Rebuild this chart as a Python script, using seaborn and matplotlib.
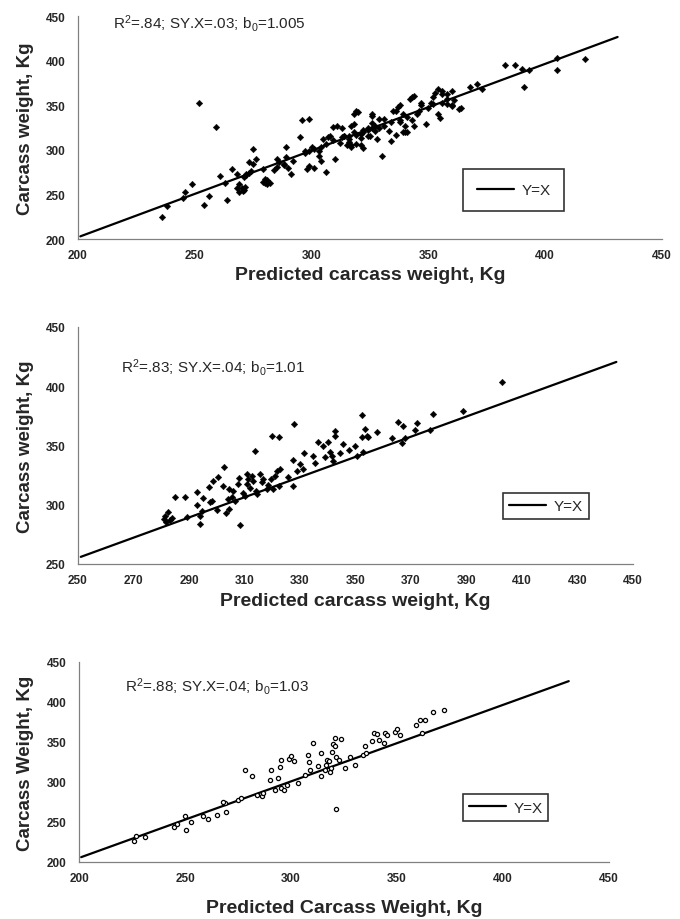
import numpy as np
import pandas as pd
import matplotlib
matplotlib.use("Agg")
import matplotlib.pyplot as plt
import seaborn as sns

sns.set_style("white")
plt.rcParams["font.family"] = ["Liberation Sans", "DejaVu Sans"]
plt.rcParams["mathtext.default"] = "regular"

# Painel 1
p1_x = [236, 238, 245, 249, 246, 252, 254, 256, 259, 261, 263, 264, 266, 268, 269, 268, 269, 270.5,
        271.5, 272, 273, 275, 275, 276, 274, 279, 280, 281, 279, 284, 285, 286, 288, 289, 289, 290,
        291, 295, 296, 297, 299, 299, 298, 299, 301, 303, 304, 304, 305, 306, 307, 308, 310, 309,
        311, 313, 314, 315, 316, 317, 318, 320, 318, 319, 321, 322, 324, 325, 326, 327, 328, 330,
        331, 333, 334, 335, 337, 338, 339, 340, 341, 343, 344, 345, 347, 349, 351, 353, 354, 354,
        355, 356, 358, 360, 363, 360, 364, 360, 358, 368, 371, 373, 383, 387, 390, 391, 393, 405,
        405, 417, 342, 344, 338, 336, 326, 319, 317, 322, 329, 326, 340, 336, 317, 322, 314,
        271, 272, 273, 270, 271, 281, 282, 280, 285, 288, 292, 297, 301, 306, 312, 316, 318, 321,
        324, 327, 329, 331, 334, 338, 341, 346, 350, 352, 356, 358, 361, 300, 303, 309, 313, 316,
        319, 321, 324, 326, 339, 343, 347, 352, 356]
p1_y = [225, 237, 246, 262, 253, 353, 238, 248, 326, 271, 263, 244, 279, 273, 262, 257, 253, 254,
        258, 273, 286, 301, 284, 290, 276, 279, 267, 262, 264, 277, 290, 286, 283, 292, 303, 280,
        273, 314, 333, 299, 299, 335, 279, 282, 280, 293, 287, 303, 312, 275, 314, 316, 290, 326,
        327, 325, 316, 305, 315, 303, 329, 342, 340, 317, 305, 320, 325, 316, 340, 327, 312, 293,
        335, 321, 310, 344, 348, 331, 320, 327, 320, 359, 327, 340, 350, 329, 353, 364, 368, 340,
        336, 366, 351, 350, 346, 349, 347, 366, 363, 370, 374, 368, 395, 395, 391, 370, 390, 403,
        389, 402, 357, 360, 350, 344, 338, 344, 327, 322, 335, 324, 320, 317, 305, 302, 316,
        270, 272, 274, 257, 255, 266, 263, 263, 281, 284, 287, 296, 301, 306, 308, 312, 320, 318,
        322, 321, 325, 327, 331, 333, 337, 344, 347, 351, 353, 357, 356, 303, 299, 311, 314, 309,
        306, 313, 316, 330, 340, 333, 352, 359, 363]

# Painel 2
p2_x = [281, 281.4, 282.6, 283, 284, 281.7, 285, 288.7, 289.2, 293, 292.8, 294, 294, 294.6, 295.2,
        297.3, 297.6, 298.2, 298.8, 300.6, 300.2, 302.4, 302.7, 303.3, 304, 304.5, 304.5, 305.4,
        306, 306.6, 307.8, 308.1, 308.4, 309.3, 310.2, 310.8, 311, 311.4, 312, 312.6, 313.2, 313.8,
        314.4, 314.1, 315.6, 316.2, 316.8, 318, 318.6, 319.8, 319.4, 320.4, 321, 321.6, 322.6,
        322.6, 322.8, 325.8, 327.4, 327.6, 328, 328.8, 330, 331, 331.4, 334.8, 335.4, 336.6, 338.4,
        339, 340.2, 340.8, 341.4, 342, 342.6, 342.6, 344.4, 345.4, 347.8, 349.8, 350.4, 352.2,
        352.2, 352.8, 353.4, 354, 354.6, 357.6, 363, 365.4, 366.6, 367.2, 368, 371.6, 372.2, 376.8,
        378, 388.9, 402.7]
p2_y = [288, 290.8, 294.2, 287.4, 288.5, 285, 306.3, 306.3, 290, 310.5, 299.8, 283.8, 290.8, 295,
        305.4, 314.7, 302, 303.4, 320.3, 323, 295.9, 316, 331.6, 292.8, 304.9, 313.3, 296.4, 306.8,
        312, 303.4, 317.5, 322.3, 282.9, 310, 307.7, 326, 317.5, 321.7, 313.9, 324.6, 320.3, 345.6,
        309, 311.9, 326, 319, 321.7, 313.3, 316.7, 358.3, 321.7, 313.3, 324.5, 328.8, 357.5, 316,
        330.2, 323, 338, 316, 368, 328.8, 334.4, 330.2, 343.7, 341.4, 335.2, 352.7, 349.9, 340,
        352.7, 344.8, 341.4, 337.2, 362.5, 358.3, 343.7, 351.3, 346.2, 349.9, 341.4, 375.7, 357,
        344.8, 364, 358, 357, 361.7, 356.3, 369.5, 352, 366.6, 356.3, 363.4, 369, 363.4, 376.6,
        378.8, 403.3]

# Painel 3
p3_x = [225.8, 227, 231.3, 244.8, 246.4, 250.2, 250.6, 253, 258.5, 260.8, 265.3, 268.7, 268, 269.5,
        275, 276.6, 278.1, 281.6, 284.1, 286.3, 286.8, 290, 290.4, 292.3, 293.9, 294.7, 295.1,
        295.4, 296.6, 298.3, 298.9, 300.2, 301.3, 303.3, 306.8, 308, 308.3, 308.8, 310.4, 312.7,
        314, 314.3, 315.9, 316.7, 317.1, 317.8, 318.2, 319, 319.5, 319.8, 320.6, 320.6, 321.4, 321,
        322.5, 323.7, 325.6, 327.7, 330, 334, 335, 335.5, 338.2, 339.2, 340.7, 341.4, 343.9, 344.2,
        345.4, 349, 350.2, 351.3, 359.1, 360.7, 361.8, 363.4, 367, 372.2]
p3_y = [225.8, 232, 231.2, 243.8, 247.9, 257.9, 240.4, 249.6, 257, 253.8, 259, 273.8, 275, 262,
        278, 280, 314.6, 307.9, 283.3, 282, 286, 303, 314.6, 290.4, 305, 318.8, 328, 292.5, 289.6,
        296.7, 328.8, 333, 325.8, 298.8, 309, 334, 324.6, 315.4, 348.8, 319.6, 336.3, 307, 315.4,
        321.7, 328, 325.8, 313, 317.5, 338, 348, 355, 345.4, 266.3, 331, 328, 354, 317.5, 331.3,
        321.7, 334, 345.4, 336.3, 350.8, 361, 360.4, 352, 348.8, 361.3, 359, 362, 366, 359, 371.7,
        377, 361, 377, 387, 390.4]

# Linhas de referência (Y=X como desenhadas)
l1_x, l1_y = [201, 431], [203, 426.5]
l2_x, l2_y = [251, 444], [256, 420.5]
l3_x, l3_y = [201, 431], [206, 426]

textos = [r"R$^2$=.84; SY.X=.03; b$_0$=1.005",
          r"R$^2$=.83; SY.X=.04; b$_0$=1.01",
          r"R$^2$=.88; SY.X=.04; b$_0$=1.03"]

fig = plt.figure(figsize=(6.8, 9.2), dpi=100)

paineis = [
    dict(rect=[0.1147, 0.7391, 0.8588, 0.2424], x=p1_x, y=p1_y, lx=l1_x, ly=l1_y,
         xlim=(200, 450), xt=np.arange(200, 451, 50), ylim=(200, 450), yt=np.arange(200, 451, 50),
         xlab="Predicted carcass weight, Kg", ylab="Carcass weight, Kg",
         txt=(0.06, 0.973), leg=(0.746, 0.22), leg_pad=0.9, xl=(-0.121), yl=-0.075, filled=True),
    dict(rect=[0.1147, 0.3859, 0.8162, 0.2576], x=p2_x, y=p2_y, lx=l2_x, ly=l2_y,
         xlim=(250, 450), xt=np.arange(250, 451, 20), ylim=(250, 450), yt=np.arange(250, 451, 50),
         xlab="Predicted carcass weight, Kg", ylab="Carcass weight, Kg",
         txt=(0.077, 0.835), leg=(0.843, 0.243), leg_pad=0.4, xl=-0.118, yl=-0.079, filled=True),
    dict(rect=[0.1162, 0.0620, 0.7794, 0.2174], x=p3_x, y=p3_y, lx=l3_x, ly=l3_y,
         xlim=(200, 450), xt=np.arange(200, 451, 50), ylim=(200, 450), yt=np.arange(200, 451, 50),
         xlab="Predicted Carcass Weight, Kg", ylab="Carcass Weight, Kg",
         txt=(0.087, 0.88), leg=(0.805, 0.272), leg_pad=0.4, xl=-0.185, yl=-0.085, filled=False),
]

for i, p in enumerate(paineis):
    ax = fig.add_axes(p["rect"])
    df = pd.DataFrame({"x": p["x"], "y": p["y"]})
    if p["filled"]:
        sns.scatterplot(data=df, x="x", y="y", ax=ax, marker="D", s=11, color="black",
                        edgecolor="black", linewidth=0.3, zorder=3)
    else:
        sns.scatterplot(data=df, x="x", y="y", ax=ax, marker="o", s=9, facecolor="white",
                        edgecolor="black", linewidth=0.9, zorder=3)
    ax.plot(p["lx"], p["ly"], color="black", linewidth=1.6, label="Y=X", zorder=2)

    ax.set_xlim(*p["xlim"])
    ax.set_ylim(*p["ylim"])
    ax.set_xticks(p["xt"])
    ax.set_yticks(p["yt"])
    for s in ["top", "right"]:
        ax.spines[s].set_visible(False)
    for s in ["left", "bottom"]:
        ax.spines[s].set_color("#808080")
        ax.spines[s].set_linewidth(0.9)
    ax.tick_params(axis="x", direction="in", length=3, color="#808080", pad=7,
                   labelsize=8.5)
    ax.tick_params(axis="y", direction="out", length=3, color="#808080", pad=6,
                   labelsize=8.5)
    for lab in ax.get_xticklabels() + ax.get_yticklabels():
        lab.set_fontweight("bold")

    ax.set_xlabel(p["xlab"], fontsize=14, fontweight="bold")
    ax.set_ylabel(p["ylab"], fontsize=13.5, fontweight="bold")
    ax.xaxis.set_label_coords(0.5, p["xl"])
    ax.yaxis.set_label_coords(p["yl"], 0.5)

    ax.text(p["txt"][0], p["txt"][1], textos[i], transform=ax.transAxes, fontsize=11,
            ha="left", va="center")

    leg = ax.legend(loc="center", bbox_to_anchor=p["leg"], fontsize=11, frameon=True,
                    fancybox=False, handlelength=2.4, borderpad=p["leg_pad"],
                    handletextpad=0.5, borderaxespad=0)
    leg.get_frame().set_edgecolor("black")
    leg.get_frame().set_linewidth(1.2)
    ax.grid(False)

plt.savefig("out.png", dpi=100)
plt.close()
